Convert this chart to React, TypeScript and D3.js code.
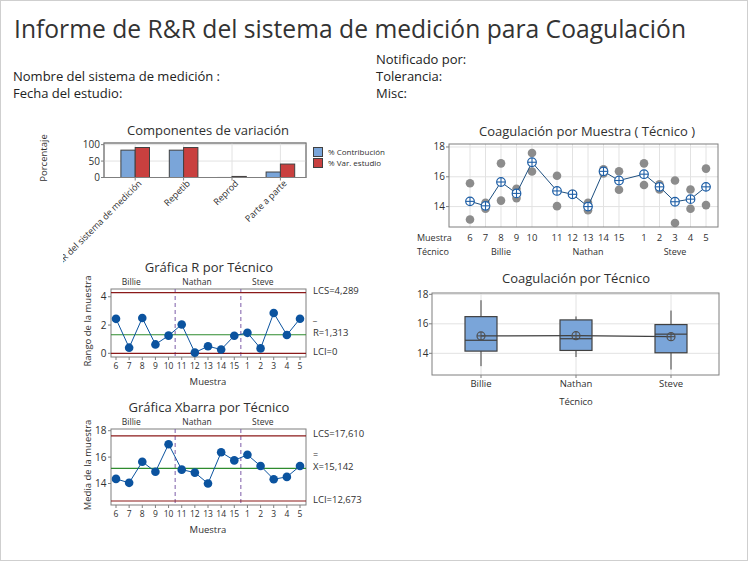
import React from 'react';
import * as d3 from 'd3';

// ---------- DATA ----------
const samples = ['6', '7', '8', '9', '10', '11', '12', '13', '14', '15', '1', '2', '3', '4', '5'];
const technicians = ['Billie', 'Nathan', 'Steve'];
const sampleTech = ['Billie', 'Billie', 'Billie', 'Billie', 'Billie', 'Nathan', 'Nathan', 'Nathan', 'Nathan', 'Nathan', 'Steve', 'Steve', 'Steve', 'Steve', 'Steve'];
const rep1 = [15.57, 14.25, 16.9, 15.2, 17.6, 16.07, 14.85, 14.25, 16.5, 16.37, 16.9, 15.5, 15.75, 15.15, 16.55];
const rep2 = [13.13, 13.85, 14.4, 14.57, 16.35, 14.03, 14.8, 13.75, 16.23, 15.13, 15.45, 15.15, 12.9, 13.85, 14.1];

const components = ['R&R del sistema de medición', 'Repetib', 'Reprod', 'Parte a parte'];
const pctContribution = [83.3, 83.2, 0.1, 16.7];
const pctStudyVar = [91.3, 91.2, 3.2, 40.9];
const legendLabels = ['% Contribución', '% Var. estudio'];

const rLimitValues = [4.289, 1.313, 0];
const rLimitLabels = ['LCS=4,289', 'R=1,313', 'LCI=0'];
const xbarLimitValues = [17.61, 15.142, 12.673];
const xbarLimitLabels = ['LCS=17,610', 'X=15,142', 'LCI=12,673'];

const compTicks = [0, 50, 100];
const rTicks = [0, 2, 4];
const valTicks = [14, 16, 18];

// ---------- STYLE ----------
const FONT = "'Open Sans', 'Noto Sans', sans-serif";
const TXT = '#303030';
const FRAME = '#7f7f7f';
const GRID = '#e2e2e2';
const BLUE_BAR = '#7aa5d9';
const RED_BAR = '#c9403f';
const LIM = '#8b1a1a';
const CL = '#2e8b2e';
const DASH = '#7d5ca8';
const PT = '#0b539f';

function quartile(sorted: number[], p: number) {
  const n = sorted.length;
  const pos = (n + 1) * p;
  const lo = Math.floor(pos);
  if (lo < 1) return sorted[0];
  if (lo >= n) return sorted[n - 1];
  return sorted[lo - 1] + (pos - lo) * (sorted[lo] - sorted[lo - 1]);
}

function CrossMarker({ x, y, r, stroke, fill }: any) {
  return (
    <g>
      <circle cx={x} cy={y} r={r} fill={fill} stroke={stroke} strokeWidth={1.2} />
      <line x1={x - r} x2={x + r} y1={y} y2={y} stroke={stroke} strokeWidth={1.1} />
      <line x1={x} x2={x} y1={y - r} y2={y + r} stroke={stroke} strokeWidth={1.1} />
    </g>
  );
}

export default function App() {
  const means = samples.map((_, i) => (rep1[i] + rep2[i]) / 2);
  const ranges = samples.map((_, i) => Math.abs(rep1[i] - rep2[i]));

  // ---- components chart ----
  const compX = d3.scaleBand<string>().domain(components).range([111, 304.6]);
  const compY = d3.scaleLinear().domain([0, 105]).range([177.5, 143]);
  const bw = 14.3;

  // ---- top right: by sample ----
  const slot = samples.map((_, i) => (i % 5) + Math.floor(i / 5) * 5 + Math.floor(i / 5) * 0.613);
  const sX = d3.scaleLinear().domain([0, 14 + 2 * 0.613]).range([470, 706]);
  const sY = d3.scaleLinear().domain([12.63, 18.2]).range([227, 144]);
  const meanLine = d3.line<number>().x((_, i) => sX(slot[i])).y((d) => sY(d))(means) || '';

  // ---- box plot ----
  const bX = d3.scalePoint<string>().domain(technicians).range([481, 671]);
  const bY = d3.scaleLinear().domain([12.53, 18.09]).range([375, 293]);
  const boxStats = technicians.map((t) => {
    const vals: number[] = [];
    samples.forEach((_, i) => {
      if (sampleTech[i] === t) vals.push(rep1[i], rep2[i]);
    });
    vals.sort((a, b) => a - b);
    return {
      t,
      min: vals[0],
      max: vals[vals.length - 1],
      q1: quartile(vals, 0.25),
      med: quartile(vals, 0.5),
      q3: quartile(vals, 0.75),
      mean: d3.mean(vals) as number,
    };
  });
  const boxMeanLine = d3.line<any>().x((d) => bX(d.t) as number).y((d) => bY(d.mean))(boxStats) || '';

  // ---- control charts ----
  const cX = d3.scalePoint<string>().domain(samples).range([116, 300]);
  const rY = d3.scaleLinear().domain([-0.26, 4.55]).range([357, 289]);
  const xY = d3.scaleLinear().domain([12.37, 18.13]).range([505, 429]);
  const rLine = d3.line<number>().x((_, i) => cX(samples[i]) as number).y((d) => rY(d))(ranges) || '';
  const xLine = d3.line<number>().x((_, i) => cX(samples[i]) as number).y((d) => xY(d))(means) || '';
  const boundaries = [(cX('10')! + cX('11')!) / 2, (cX('15')! + cX('1')!) / 2];
  const groupCenters = technicians.map((t) => {
    const idx = samples.map((_, i) => i).filter((i) => sampleTech[i] === t);
    return (cX(samples[idx[0]])! + cX(samples[idx[idx.length - 1]])!) / 2;
  });

  const controlChart = (
    top: number,
    bottom: number,
    y: d3.ScaleLinear<number, number>,
    values: number[],
    path: string,
    ticks: number[],
    limVals: number[],
    limLabels: string[],
    barSym: string,
    barOffset: number,
    title: string,
    ylab: string,
    labelY: number[],
  ) => (
    <g>
      <text x={209} y={top - 17} fontSize={13} textAnchor="middle" fill={TXT}>{title}</text>
      {technicians.map((t, k) => (
        <text key={t} x={groupCenters[k] - 11} y={top - 4} fontSize={8.5} textAnchor="middle" fill={TXT}>{t}</text>
      ))}
      <rect x={111} y={top} width={195} height={bottom - top} fill="white" stroke={FRAME} strokeWidth={1} />
      {boundaries.map((b, k) => (
        <line key={k} x1={b} x2={b} y1={top} y2={bottom} stroke={DASH} strokeWidth={1} strokeDasharray="4,3" />
      ))}
      {limVals.map((v, k) => (
        <line key={k} x1={111} x2={306} y1={y(v)} y2={y(v)} stroke={k === 1 ? CL : LIM} strokeWidth={1.2} />
      ))}
      <path d={path} fill="none" stroke={PT} strokeWidth={1} />
      {values.map((v, i) => (
        <circle key={i} cx={cX(samples[i])} cy={y(v)} r={4.3} fill={PT} />
      ))}
      {ticks.map((t) => (
        <g key={t}>
          <line x1={108} x2={111} y1={y(t)} y2={y(t)} stroke={FRAME} />
          <text x={106.5} y={y(t)} dy="0.35em" fontSize={10} textAnchor="end" fill={TXT}>{t}</text>
        </g>
      ))}
      {samples.map((s) => (
        <g key={s}>
          <line x1={cX(s)} x2={cX(s)} y1={bottom} y2={bottom + 3} stroke={FRAME} />
          <text x={cX(s)} y={bottom + 9} dy="0.35em" fontSize={8.5} textAnchor="middle" fill={TXT}>{s}</text>
        </g>
      ))}
      <text x={208} y={bottom + 25} dy="0.35em" fontSize={9.5} textAnchor="middle" fill={TXT}>Muestra</text>
      <text transform={`translate(87.5,${(top + bottom) / 2 - 2}) rotate(-90)`} dy="0.35em" fontSize={9.5} textAnchor="middle" fill={TXT}>{ylab}</text>
      {limLabels.map((l, k) => (
        <text key={l} x={313} y={labelY[k]} dy="0.35em" fontSize={9.5} fill={TXT}>{l}</text>
      ))}
      <text x={313} y={labelY[1] - barOffset} fontSize={9} fill={TXT}>{barSym}</text>
    </g>
  );

  return (
    <svg width={748} height={561} style={{ position: 'absolute', left: 0, top: 0 }} fontFamily={FONT}>
      <defs>
        <clipPath id="compClip">
          <rect x={63} y={0} width={400} height={561} />
        </clipPath>
      </defs>
      <rect x={0.5} y={0.5} width={747} height={560} fill="white" stroke="#cfcfcf" />

      {/* Header */}
      <text x={14} y={38} fontSize={25} fill="#333" textLength={672} lengthAdjust="spacingAndGlyphs">Informe de R&amp;R del sistema de medición para Coagulación</text>
      <text x={376} y={64} fontSize={13} fontWeight={500} fill="#222">Notificado por:</text>
      <text x={13} y={81} fontSize={13} fontWeight={500} fill="#222">Nombre del sistema de medición :</text>
      <text x={376} y={81} fontSize={13} fontWeight={500} fill="#222">Tolerancia:</text>
      <text x={13} y={98} fontSize={13} fontWeight={500} fill="#222">Fecha del estudio:</text>
      <text x={376} y={98} fontSize={13} fontWeight={500} fill="#222">Misc:</text>

      {/* Components of variation */}
      <text x={208} y={134.5} fontSize={13} textAnchor="middle" fill={TXT}>Componentes de variación</text>
      <rect x={104} y={143} width={202} height={34.5} fill="white" stroke={FRAME} />
      {[50, 100].map((t) => (
        <line key={t} x1={104} x2={306} y1={compY(t)} y2={compY(t)} stroke={GRID} />
      ))}
      {components.map((c) => {
        const cx = (compX(c) as number) + compX.bandwidth() / 2;
        return <line key={c} x1={cx} x2={cx} y1={143} y2={177.5} stroke={GRID} />;
      })}
      {components.map((c, i) => {
        const cx = (compX(c) as number) + compX.bandwidth() / 2;
        return (
          <g key={c}>
            <rect x={cx - bw} y={compY(pctContribution[i])} width={bw} height={compY(0) - compY(pctContribution[i])} fill={BLUE_BAR} stroke="#404040" strokeWidth={1} />
            <rect x={cx} y={compY(pctStudyVar[i])} width={bw} height={compY(0) - compY(pctStudyVar[i])} fill={RED_BAR} stroke="#404040" strokeWidth={1} />
            <line x1={cx} x2={cx} y1={177.5} y2={180.5} stroke={FRAME} />
          </g>
        );
      })}
      <rect x={104} y={143} width={202} height={34.5} fill="none" stroke={FRAME} />
      {compTicks.map((t) => (
        <g key={t}>
          <line x1={101} x2={104} y1={compY(t)} y2={compY(t)} stroke={FRAME} />
          <text x={100} y={compY(t)} dy="0.35em" fontSize={10} textAnchor="end" fill={TXT}>{t}</text>
        </g>
      ))}
      <g clipPath="url(#compClip)">
        {components.map((c) => {
          const cx = (compX(c) as number) + compX.bandwidth() / 2;
          return (
            <text key={c} transform={`translate(${cx + 7},${184}) rotate(-45)`} fontSize={9} textAnchor="end" fill={TXT}>{c}</text>
          );
        })}
      </g>
      <text transform="translate(44,158) rotate(-90)" dy="0.35em" fontSize={9.5} textAnchor="middle" fill={TXT}>Porcentaje</text>
      {legendLabels.map((l, k) => (
        <g key={l}>
          <rect x={313.5} y={147.5 + k * 11} width={9} height={9} fill={k === 0 ? BLUE_BAR : RED_BAR} stroke="#404040" />
          <text x={328} y={152 + k * 11} dy="0.35em" fontSize={8} fill={TXT}>{l}</text>
        </g>
      ))}

      {/* Coagulación por Muestra (Técnico) */}
      <text x={587} y={136} fontSize={13} textAnchor="middle" fill={TXT}>Coagulación por Muestra ( Técnico )</text>
      <rect x={449} y={144} width={269} height={83} fill="white" stroke="none" />
      {valTicks.map((t) => (
        <line key={t} x1={449} x2={718} y1={sY(t)} y2={sY(t)} stroke={GRID} />
      ))}
      {samples.map((s, i) => (
        <line key={s} x1={sX(slot[i])} x2={sX(slot[i])} y1={144} y2={227} stroke={GRID} />
      ))}
      {samples.map((s, i) => (
        <g key={s}>
          <circle cx={sX(slot[i])} cy={sY(rep1[i])} r={4.3} fill="#8c8c8c" />
          <circle cx={sX(slot[i])} cy={sY(rep2[i])} r={4.3} fill="#8c8c8c" />
        </g>
      ))}
      <path d={meanLine} fill="none" stroke="#1d4f80" strokeWidth={1} />
      {means.map((m, i) => (
        <CrossMarker key={i} x={sX(slot[i])} y={sY(m)} r={4.3} stroke="#1f5fa6" fill="white" />
      ))}
      <rect x={449} y={144} width={269} height={83} fill="none" stroke={FRAME} />
      {valTicks.map((t) => (
        <g key={t}>
          <line x1={446} x2={449} y1={sY(t)} y2={sY(t)} stroke={FRAME} />
          <text x={445} y={sY(t)} dy="0.35em" fontSize={10} textAnchor="end" fill={TXT}>{t}</text>
        </g>
      ))}
      <text x={417} y={238} dy="0.35em" fontSize={9} fill={TXT}>Muestra</text>
      <text x={417} y={252} dy="0.35em" fontSize={9} fill={TXT}>Técnico</text>
      {samples.map((s, i) => (
        <text key={s} x={sX(slot[i])} y={238} dy="0.35em" fontSize={9.5} textAnchor="middle" fill={TXT}>{s}</text>
      ))}
      {technicians.map((t, k) => (
        <text key={t} x={(sX(slot[k * 5]) + sX(slot[k * 5 + 4])) / 2} y={252} dy="0.35em" fontSize={9} textAnchor="middle" fill={TXT}>{t}</text>
      ))}

      {/* Coagulación por Técnico */}
      <text x={576} y={283} fontSize={13} textAnchor="middle" fill={TXT}>Coagulación por Técnico</text>
      <rect x={432} y={293} width={287} height={82} fill="white" />
      {valTicks.map((t) => (
        <line key={t} x1={432} x2={719} y1={bY(t)} y2={bY(t)} stroke={GRID} />
      ))}
      {technicians.map((t) => (
        <line key={t} x1={bX(t)} x2={bX(t)} y1={293} y2={375} stroke={GRID} />
      ))}
      {boxStats.map((b) => {
        const x = bX(b.t) as number;
        return (
          <g key={b.t}>
            <line x1={x} x2={x} y1={bY(b.max)} y2={bY(b.q3)} stroke="#404040" />
            <line x1={x} x2={x} y1={bY(b.q1)} y2={bY(b.min)} stroke="#404040" />
            <rect x={x - 16} y={bY(b.q3)} width={32} height={bY(b.q1) - bY(b.q3)} fill={BLUE_BAR} stroke="#404040" strokeWidth={1.2} />
            <line x1={x - 16} x2={x + 16} y1={bY(b.med)} y2={bY(b.med)} stroke="#404040" strokeWidth={1.2} />
          </g>
        );
      })}
      <path d={boxMeanLine} fill="none" stroke="#404040" strokeWidth={1.2} />
      {boxStats.map((b) => (
        <CrossMarker key={b.t} x={bX(b.t)} y={bY(b.mean)} r={4} stroke="#505050" fill="none" />
      ))}
      <rect x={432} y={293} width={287} height={82} fill="none" stroke={FRAME} />
      {valTicks.map((t) => (
        <g key={t}>
          <line x1={429} x2={432} y1={bY(t)} y2={bY(t)} stroke={FRAME} />
          <text x={428.5} y={bY(t)} dy="0.35em" fontSize={10} textAnchor="end" fill={TXT}>{t}</text>
        </g>
      ))}
      {technicians.map((t) => (
        <g key={t}>
          <line x1={bX(t)} x2={bX(t)} y1={375} y2={378} stroke={FRAME} />
          <text x={bX(t)} y={384} dy="0.35em" fontSize={9.5} textAnchor="middle" fill={TXT}>{t}</text>
        </g>
      ))}
      <text x={576} y={402} dy="0.35em" fontSize={9.5} textAnchor="middle" fill={TXT}>Técnico</text>

      {/* R chart */}
      {controlChart(289, 357, rY, ranges, rLine, rTicks, rLimitValues, rLimitLabels, '_', 13, 'Gráfica R por Técnico', 'Rango de la muestra', [291, 333, 352])}

      {/* Xbar chart */}
      {controlChart(429, 505, xY, means, xLine, valTicks, xbarLimitValues, xbarLimitLabels, '=', 9, 'Gráfica Xbarra por Técnico', 'Media de la muestra', [434, 467, 500])}
    </svg>
  );
}
